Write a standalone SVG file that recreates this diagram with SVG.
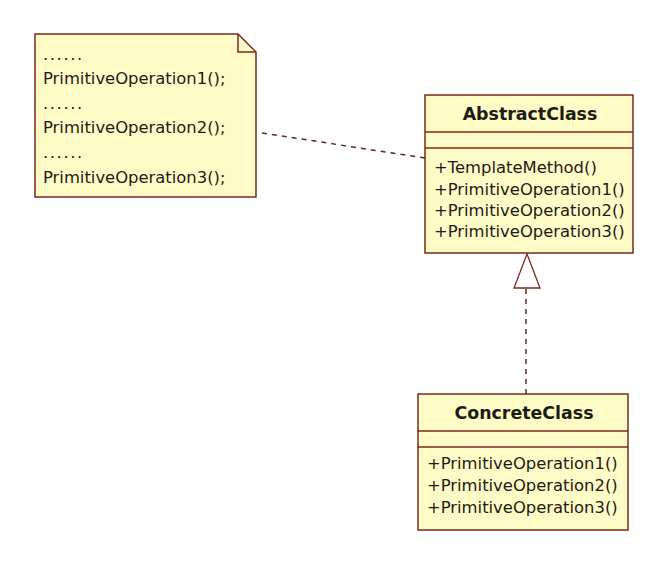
<svg xmlns="http://www.w3.org/2000/svg" width="671" height="566" viewBox="0 0 671 566">
  <style>
    .box { fill: #fffbc6; stroke: #7a2a1e; stroke-width: 1.5; }
    .sep { stroke: #7a2a1e; stroke-width: 1.5; fill: none; }
    .txt { font-family: "DejaVu Sans", Verdana, sans-serif; font-size: 16.4px; fill: #1c1c14; }
    .dots { letter-spacing: 1.6px; }
    .title { font-family: "DejaVu Sans", Verdana, sans-serif; font-size: 17.4px; font-weight: bold; fill: #1c1c14; text-anchor: middle; }
    .dash { stroke: #5b2a22; stroke-width: 1.5; stroke-dasharray: 5 5; fill: none; }
  </style>
  <rect width="671" height="566" fill="#ffffff"/>

  <!-- note with folded corner -->
  <g id="note">
    <path class="box" d="M35,34 H238 L256,52 V197 H35 Z"/>
    <path class="sep" d="M238,34 V52 H256"/>
    <text class="txt dots" x="43" y="60">......</text>
    <text class="txt" x="43" y="84">PrimitiveOperation1();</text>
    <text class="txt dots" x="43" y="109">......</text>
    <text class="txt" x="43" y="133">PrimitiveOperation2();</text>
    <text class="txt dots" x="43" y="158">......</text>
    <text class="txt" x="43" y="183">PrimitiveOperation3();</text>
  </g>

  <!-- abstract class -->
  <g id="AbstractClass">
    <rect class="box" x="425" y="95" width="208" height="158"/>
    <line class="sep" x1="425" y1="132" x2="633" y2="132"/>
    <line class="sep" x1="425" y1="148" x2="633" y2="148"/>
    <text class="title" x="530" y="120">AbstractClass</text>
    <text class="txt" x="434" y="173">+TemplateMethod()</text>
    <text class="txt" x="434" y="195">+PrimitiveOperation1()</text>
    <text class="txt" x="434" y="216">+PrimitiveOperation2()</text>
    <text class="txt" x="434" y="237">+PrimitiveOperation3()</text>
  </g>

  <!-- concrete class -->
  <g id="ConcreteClass">
    <rect class="box" x="418" y="394" width="210" height="136"/>
    <line class="sep" x1="418" y1="431" x2="628" y2="431"/>
    <line class="sep" x1="418" y1="447" x2="628" y2="447"/>
    <text class="title" x="524" y="419">ConcreteClass</text>
    <text class="txt" x="427" y="469">+PrimitiveOperation1()</text>
    <text class="txt" x="427" y="491">+PrimitiveOperation2()</text>
    <text class="txt" x="427" y="513">+PrimitiveOperation3()</text>
  </g>

  <!-- connectors -->
  <g id="connectors">
    <path class="dash" d="M262,133 L425,158"/>
    <path class="dash" d="M526,394 V289"/>
    <path d="M527,254 L514,288 H540 Z" fill="#ffffff" stroke="#7a2a1e" stroke-width="1.3"/>
  </g>
</svg>
